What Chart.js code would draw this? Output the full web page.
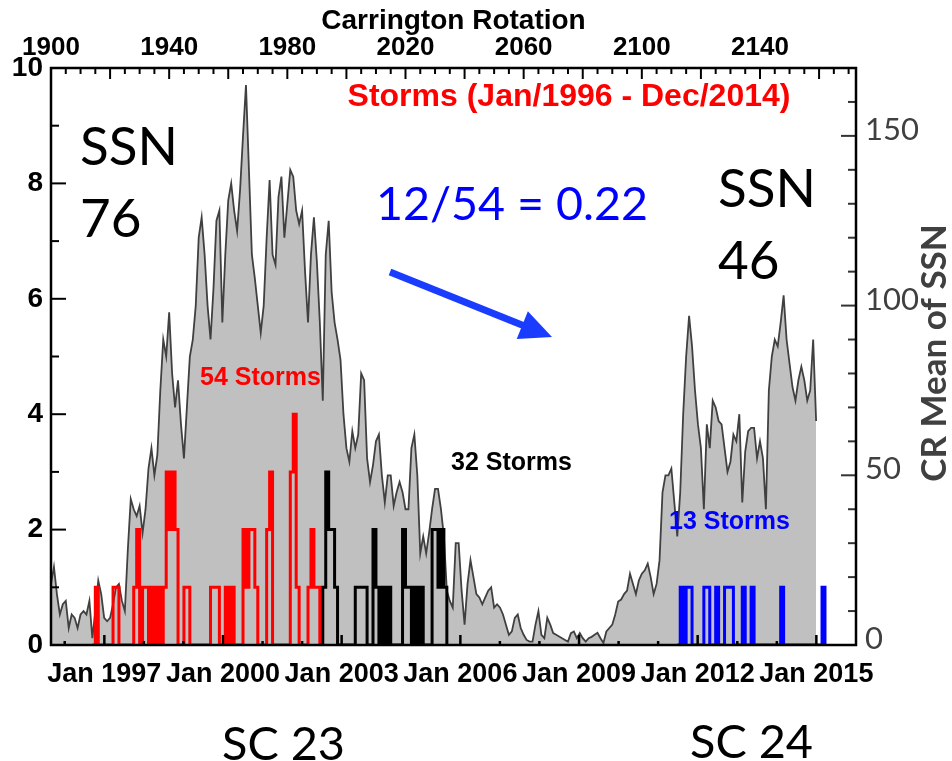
<!DOCTYPE html>
<html><head><meta charset="utf-8">
<script src="https://cdn.jsdelivr.net/npm/chart.js@4.4.1/dist/chart.umd.min.js"></script>
<style>html,body{margin:0;padding:0;background:#fff;}#wrap{width:952px;height:761px;}</style>
</head><body><div id="wrap"><canvas id="c" width="952" height="761"></canvas></div>
<script>
// ---------------- data ----------------
const crFirst = 1900;               // first Carrington rotation of the SSN series
const ssnValues = [
 18,23,15,9,12,13,5,9,8,5,
 9,10,9,13,2,10,19,15,8,7,
 8,12,17,18,13,10,28,43,40,38,
 41,33,40,52,58,50,56,75,90,85,
 98,80,70,78,65,55,70,85,90,100,
 120,126,115,100,90,105,125,128,95,115,
 131,136,128,122,134,150,165,140,115,108,
 100,92,100,120,137,115,112,132,138,120,
 130,140,138,128,124,128,110,95,115,126,
 113,95,72,115,125,104,95,90,84,68,
 58,54,63,58,62,80,78,55,48,53,
 60,62,50,42,50,50,41,45,48,45,
 40,40,58,62,50,27,32,27,33,40,
 46,46,40,32,16,13,11,30,30,16,
 6,18,25,20,15,14,12,14,16,17,
 11,12,11,9,6,3,4,8,9,5,
 3,1.5,1,1,6,10,3,2,8,6,
 3.5,3,2.5,2,1.5,1,3.5,4,2,3.5,
 2,1,2,2.4,3,3.6,2,0.6,4,5,
 6,9,12.8,13.4,15,16,21,18,15,19,
 21,22,24,20,15,18,25,45,50,50,
 52,42,32,45,68,85,97,88,75,65,
 58,40,65,58,72,70,66,65,58,51,
 54,62,60,68,42,57,63,64,64,55,
 60,55,40,75,85,90,88,95,103,90,
 83,76,72,78,82,78,72,75,90,66
];
// storms per Carrington rotation (cycle 23 rising: red, cycle 23 declining: black, cycle 24: blue)
const redStormCR    = [1915,1921,1922,1928,1929,1931,1932,1934,1936,1938,1939,1940,1941,1942,1945,1946,1954,1955,1956,1959,1961,1965,1966,1967,1968,1969,1973,1974,1981,1982,1983,1987,1988,1989,1990];
const redStormCount = [1,1,1,1,2,1,1,1,1,1,3,2,3,2,1,1,1,1,1,1,1,2,1,2,2,1,2,3,3,4,1,1,2,1,1];
const blackStormCR    = [1992,1993,1994,1995,1996,2003,2004,2005,2006,2009,2010,2012,2014,2019,2020,2021,2023,2025,2029,2030,2031,2032,2033];
const blackStormCount = [1,3,2,2,1,1,1,1,1,2,1,1,1,2,1,1,1,1,2,2,1,2,1];
const blueStormCR    = [2113,2115,2116,2121,2122,2125,2128,2129,2130,2134,2137,2147,2161];
const blueStormCount = [1,1,1,1,1,1,1,1,1,1,1,1,1];

// axes
const crMin = 1900, crMax = 2172.5;
const topLabelTicks = [1900,1940,1980,2020,2060,2100,2140];
const topMinorStep = 5, topMajorStep = 20;
const yearTicks = [1996,1997,1998,1999,2000,2001,2002,2003,2004,2005,2006,2007,2008,2009,2010,2011,2012,2013,2014,2015];
const labeledYears = [1997,2000,2003,2006,2009,2012,2015];
const stormTicks = [0,2,4,6,8,10];
const ssnTicks = [0,50,100,150];
const stormMax = 10, ssnMax = 170;

// Carrington rotation 2000 began 2003-02-14; synodic rotation 27.2753 d
function crOfDate(y, m, d){ return 2000 + (Date.UTC(y, m-1, d) - Date.UTC(2003,1,14)) / 86400000 / 27.2753; }

function stepSeries(crs, counts){
  const from = Math.min(...crs) - 1, to = Math.max(...crs) + 1, pts = [];
  for (let c = from; c <= to; c++){ const i = crs.indexOf(c); pts.push({x:c, y: i >= 0 ? counts[i] : 0}); }
  return pts;
}
const ssnPoints = ssnValues.map((v,i)=>({x: crFirst + i, y: v}));

const SANS = '"Liberation Sans", Arial, sans-serif';
const SOFT = 'Lato, "Open Sans", sans-serif';

// ---------------- plugins ----------------
const framePlugin = {
  id:'frame',
  afterDatasetsDraw(chart){
    const {ctx, chartArea:a, scales} = chart;
    const L = (x1,y1,x2,y2)=>{ctx.beginPath();ctx.moveTo(x1,y1);ctx.lineTo(x2,y2);ctx.stroke();};
    ctx.save();
    ctx.lineCap='butt';
    ctx.strokeStyle='#000'; ctx.lineWidth=2;
    for (let v = crMin; v <= crMax; v += topMinorStep){
      const px = scales.x.getPixelForValue(v);
      L(px, a.top, px, a.top + ((v - crMin) % topMajorStep === 0 ? 11 : 6));
    }
    ctx.lineWidth=2.5;
    yearTicks.forEach(yr=>{
      const px = scales.xb.getPixelForValue(crOfDate(yr,1,1));
      L(px, a.bottom, px, a.bottom - (labeledYears.includes(yr) ? 10 : 4));
    });
    ctx.lineWidth=2;
    for (let v = 0; v <= stormMax; v++){
      const py = scales.y.getPixelForValue(v);
      L(a.left, py, a.left + (v % 2 === 0 ? 15 : 8), py);
    }
    ctx.strokeStyle='#333';
    for (let v = 0; v <= ssnMax; v += 10){
      const py = scales.yr.getPixelForValue(v);
      L(a.right, py, a.right - (v % 50 === 0 ? 15 : 8), py);
    }
    ctx.strokeStyle='#000'; ctx.lineWidth=2.5;
    ctx.strokeRect(a.left, a.top, a.right - a.left, a.bottom - a.top);
    ctx.restore();
  }
};

function fitSize(ctx, text, weight, family, width){
  ctx.font = `${weight} 100px ${family}`;
  return 100 * width / ctx.measureText(text).width;
}
const notePlugin = {
  id:'notes',
  afterDraw(chart){
    const ctx = chart.ctx;
    ctx.save();
    // title of storm histogram
    ctx.fillStyle='#ff0000'; ctx.font=`bold 32px ${SANS}`; ctx.textAlign='center'; ctx.textBaseline='middle';
    ctx.fillText('Storms (Jan/1996 - Dec/2014)', 569, 97);
    ctx.font=`bold 25px ${SANS}`; ctx.textAlign='left';
    ctx.fillText('54 Storms', 200, 378);
    ctx.fillStyle='#000'; ctx.fillText('32 Storms', 451, 463);
    ctx.fillStyle='#0000ff'; ctx.fillText('13 Storms', 669, 522);
    // large annotations
    ctx.textBaseline='alphabetic';
    const s1 = fitSize(ctx,'SSN','normal',SOFT,98);
    ctx.font=`normal ${s1}px ${SOFT}`; ctx.fillStyle='#000';
    ctx.fillText('SSN', 80, 165); ctx.fillText('76', 80, 237);
    ctx.fillText('SSN', 718, 207); ctx.fillText('46', 718, 279);
    const s2 = fitSize(ctx,'12/54 = 0.22','normal',SOFT,272);
    ctx.font=`normal ${s2}px ${SOFT}`; ctx.fillStyle='#0000ff';
    ctx.fillText('12/54 = 0.22', 376, 220);
    const s3 = fitSize(ctx,'SC 23','normal',SOFT,123);
    ctx.font=`normal ${s3}px ${SOFT}`; ctx.fillStyle='#000';
    ctx.fillText('SC 23', 222, 760); ctx.fillText('SC 24', 690, 758);
    // right axis title
    ctx.save();
    ctx.translate(935, 353); ctx.rotate(-Math.PI/2);
    ctx.font=`bold 35px ${SOFT}`; ctx.fillStyle='#404040'; ctx.textAlign='center'; ctx.textBaseline='middle';
    ctx.fillText('CR Mean of SSN', 0, 0);
    ctx.restore();
    // arrow
    const x0=390,y0=272,x1=552,y1=337;
    const ang=Math.atan2(y1-y0,x1-x0), hl=32, hw=15;
    const bx=x1-hl*Math.cos(ang), by=y1-hl*Math.sin(ang);
    ctx.strokeStyle='#1a3cff'; ctx.fillStyle='#1a3cff'; ctx.lineWidth=7; ctx.lineCap='butt';
    ctx.beginPath(); ctx.moveTo(x0,y0); ctx.lineTo(bx+3*Math.cos(ang),by+3*Math.sin(ang)); ctx.stroke();
    ctx.beginPath(); ctx.moveTo(x1,y1);
    ctx.lineTo(bx - hw*Math.sin(ang), by + hw*Math.cos(ang));
    ctx.lineTo(bx + hw*Math.sin(ang), by - hw*Math.cos(ang));
    ctx.closePath(); ctx.fill();
    ctx.restore();
  }
};

// ---------------- chart ----------------
const stormLine = (data, color, order)=>({data, xAxisID:'x', yAxisID:'y', stepped:true, borderColor:color,
  borderWidth:3, borderJoinStyle:'miter', fill:false, pointRadius:0, order});

new Chart(document.getElementById('c'), {
  type:'line',
  data:{datasets:[
    {label:'CR Mean of SSN', data:ssnPoints, xAxisID:'x', yAxisID:'yr', borderColor:'#404040', borderWidth:1.8,
     backgroundColor:'#c0c0c0', fill:'origin', pointRadius:0, tension:0, order:10},
    stormLine(stepSeries(redStormCR, redStormCount), '#ff0000', 3),
    stormLine(stepSeries(blackStormCR, blackStormCount), '#000000', 2),
    stormLine(stepSeries(blueStormCR, blueStormCount), '#0000ff', 1)
  ]},
  options:{
    responsive:false, animation:false, devicePixelRatio:1,
    layout:{padding:0},
    plugins:{legend:{display:false}, tooltip:{enabled:false}},
    scales:{
      x:{type:'linear', position:'top', min:crMin, max:crMax,
        afterBuildTicks:s=>{s.ticks = topLabelTicks.map(v=>({value:v}));},
        afterFit:s=>{s.height = 68;},
        grid:{display:false, drawTicks:false}, border:{display:false},
        ticks:{autoSkip:false, maxRotation:0, padding:5, color:'#000', font:{family:SANS, size:26, weight:'bold'},
          callback:v=>String(v)},
        title:{display:true, text:'Carrington Rotation', color:'#000', font:{family:SANS, size:28, weight:'bold'}, padding:{top:4,bottom:0}}
      },
      xb:{type:'linear', position:'bottom', min:crMin, max:crMax,
        afterBuildTicks:s=>{s.ticks = yearTicks.map(y=>({value:crOfDate(y,1,1), label: labeledYears.includes(y) ? 'Jan ' + y : ''}));},
        afterFit:s=>{s.height = 116;},
        grid:{display:false, drawTicks:false}, border:{display:false},
        ticks:{autoSkip:false, maxRotation:0, padding:13, color:'#000', font:{family:SANS, size:27, weight:'bold'},
          callback:function(v, i, t){ return t[i].label; }}
      },
      y:{type:'linear', position:'left', min:0, max:stormMax,
        afterBuildTicks:s=>{s.ticks = stormTicks.map(v=>({value:v}));},
        afterFit:s=>{s.width = 51;},
        grid:{display:false, drawTicks:false}, border:{display:false},
        ticks:{padding:8, color:'#000', font:{family:SANS, size:28, weight:'bold'}}
      },
      yr:{type:'linear', position:'right', min:0, max:ssnMax,
        afterBuildTicks:s=>{s.ticks = ssnTicks.map(v=>({value:v}));},
        afterFit:s=>{s.width = 96;},
        grid:{display:false, drawTicks:false}, border:{display:false},
        ticks:{padding:9, labelOffset:-6, color:'#404040', font:{family:SOFT, size:31}}
      }
    }
  },
  plugins:[framePlugin, notePlugin]
});
</script></body></html>
